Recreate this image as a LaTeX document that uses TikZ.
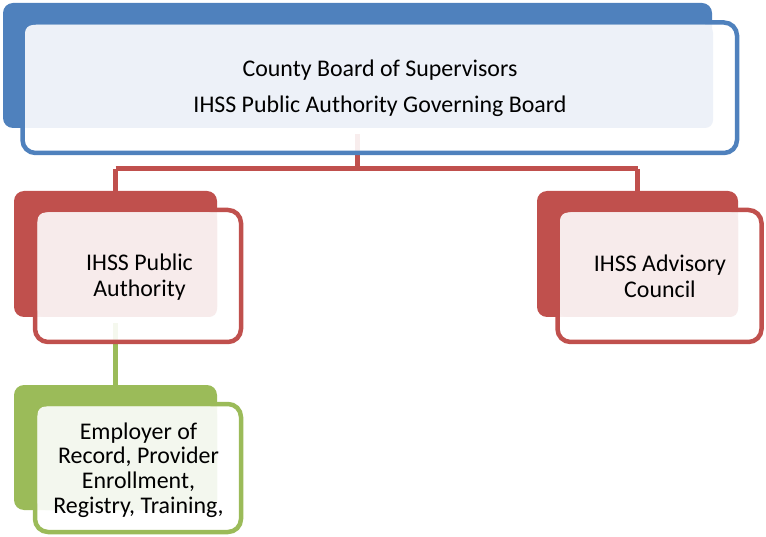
\documentclass[tikz,border=0pt]{standalone}
\usepackage{fontspec}
\setmainfont{Carlito}
\definecolor{cblue}{HTML}{4F81BD}
\definecolor{cred}{HTML}{C0504D}
\definecolor{cgreen}{HTML}{9BBB59}
\definecolor{tblue}{HTML}{EDF1F8}
\definecolor{tred}{HTML}{F7EBEB}
\definecolor{tgreen}{HTML}{F3F7EE}
\tikzset{
  backbox/.style={fill=#1, draw=none, rounded corners=10pt},
  frontbox/.style={fill=white, fill opacity=0.9, draw=#1, draw opacity=1, line width=4.5pt, rounded corners=13pt},
  tintbox/.style={fill=#1, draw=none, rounded corners=8pt},
  conn/.style={draw=#1, line width=5pt},
  label/.style={align=center, inner sep=0pt, text=black},
}
\begin{document}
\begin{tikzpicture}[x=1pt,y=-1pt]
\useasboundingbox (0,0) rectangle (766,537);
% connectors (under boxes)
\coordinate (topc) at (357.5,134);
\coordinate (jn) at (357.5,169);
\coordinate (jl) at (115.5,169);
\coordinate (jr) at (637.5,169);
\coordinate (lt) at (115.5,191);
\coordinate (rt) at (637.5,191);
\coordinate (gc) at (115.5,323);
\coordinate (gt) at (115.5,386);
\draw[conn=cred] (topc) -- (jn);
\draw[conn=cred] (jl) -- (lt);
\draw[conn=cred] (jr) -- (rt);
\draw[conn=cred] (jl) -- (jr);
\draw[conn=cgreen] (gc) -- (gt);
% top box
\path[backbox=cblue] (3,3) rectangle (712,128);
\path[frontbox=cblue] (22.5,22.5) rectangle (737,153);
\path[tintbox=tblue] (25,25) rectangle (713,128);
\node[label, font=\fontsize{23.9}{36.5}\selectfont] (top) at (380,88.5) {County Board of Supervisors\\IHSS Public Authority Governing Board};
% left red
\path[backbox=cred] (14,191) rectangle (217,317);
\path[frontbox=cred] (35,210) rectangle (241,342);
\path[tintbox=tred] (37.5,212.5) rectangle (217,317);
\node[label, font=\fontsize{23.9}{26}\selectfont] (pa) at (139.5,277) {IHSS Public\\Authority};
% right red
\path[backbox=cred] (537,191) rectangle (738,317);
\path[frontbox=cred] (557.5,210) rectangle (761.5,342);
\path[tintbox=tred] (560,212.5) rectangle (738,317);
\node[label, font=\fontsize{23.9}{26}\selectfont] (ac) at (660,276.5) {IHSS Advisory\\Council};
% green
\path[backbox=cgreen] (14,385) rectangle (217,510);
\path[frontbox=cgreen] (35,404) rectangle (241,532);
\path[tintbox=tgreen] (37.5,406.5) rectangle (217,510);
\node[label, font=\fontsize{23.9}{24.6}\selectfont] (er) at (138.5,470) {Employer of\\Record, Provider\\Enrollment,\\Registry, Training,};
\end{tikzpicture}
\end{document}
